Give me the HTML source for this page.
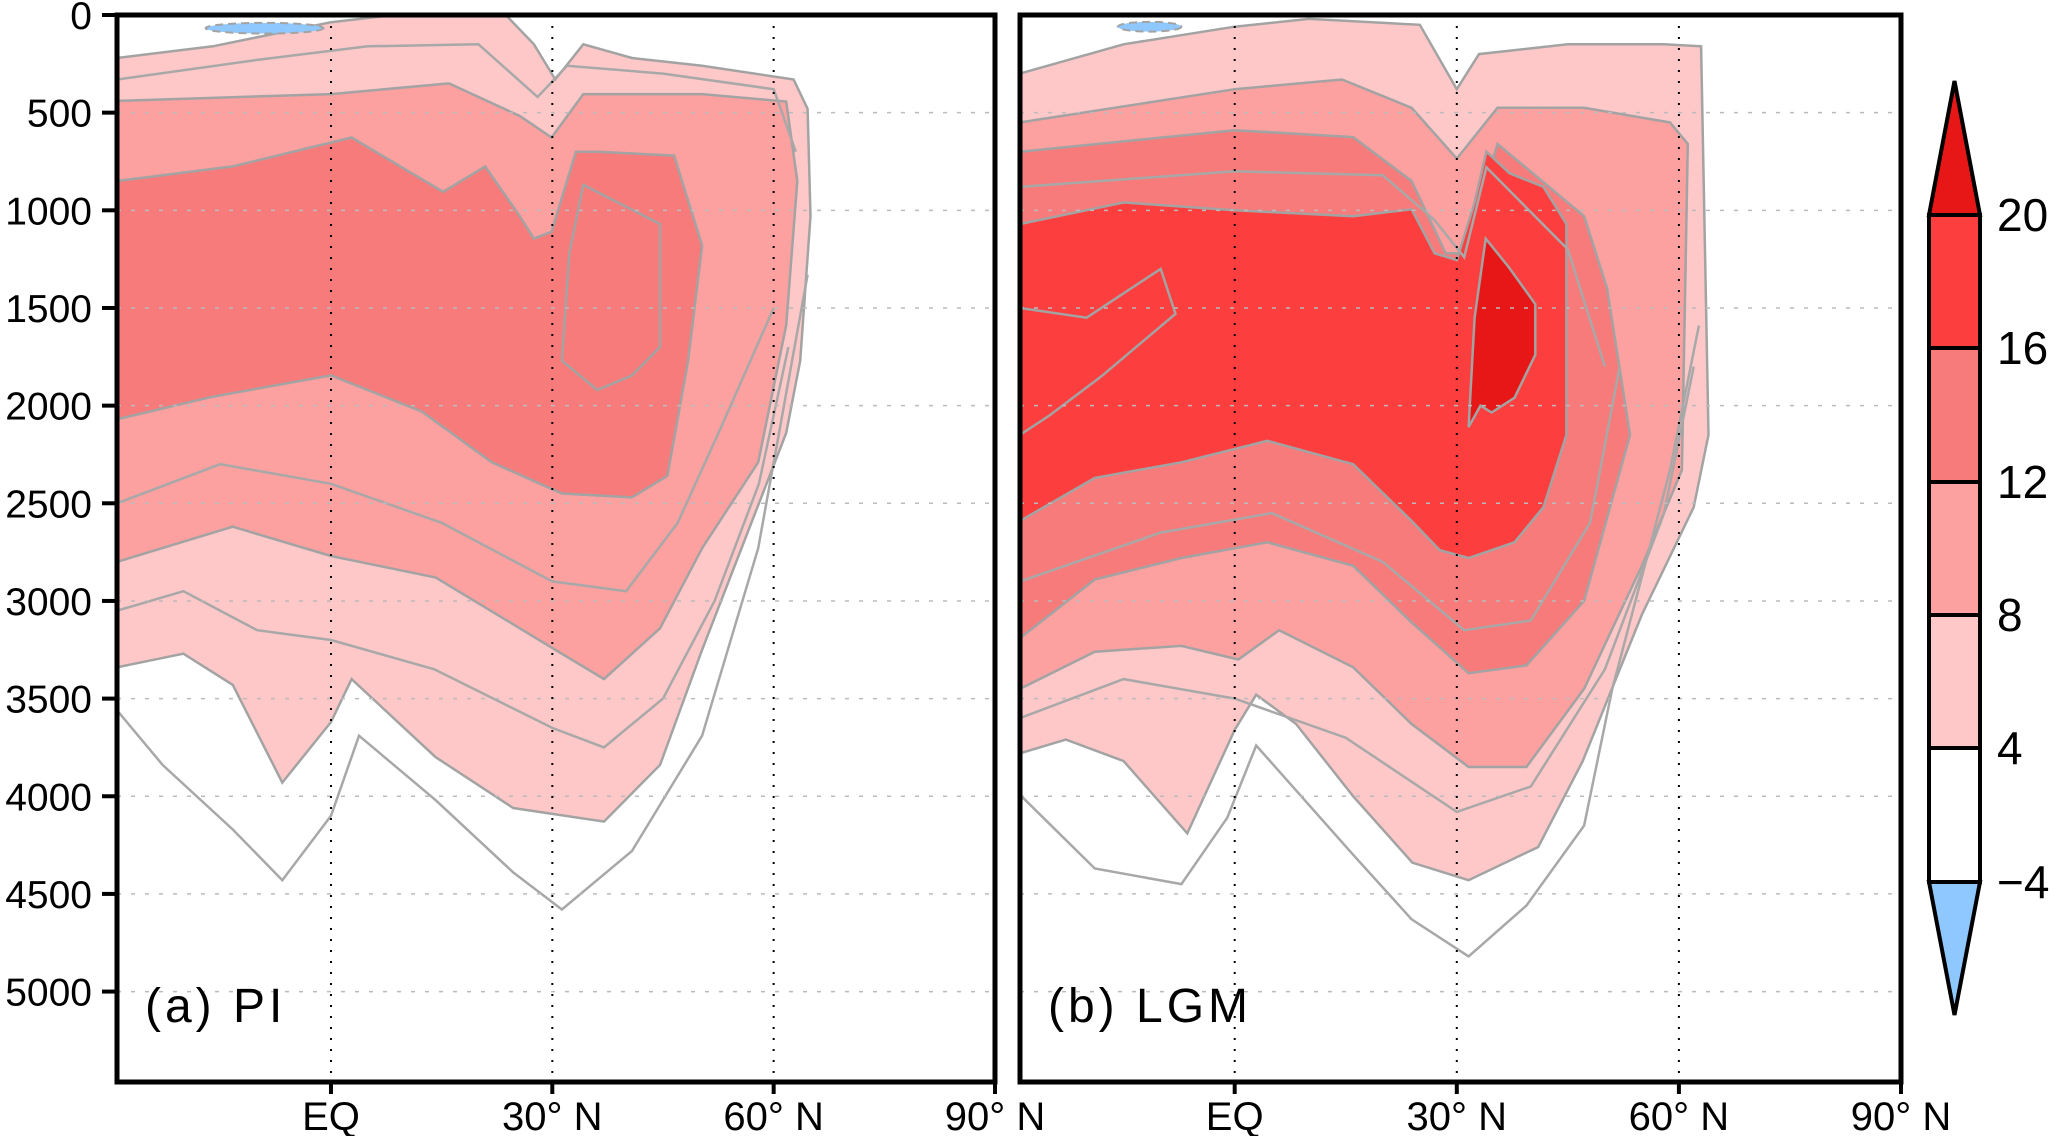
<!DOCTYPE html>
<html><head><meta charset="utf-8"><style>
body{margin:0;background:#fff;}
svg{display:block;font-family:"Liberation Sans",sans-serif;}
</style></head><body>
<svg id="chart" width="2067" height="1136" viewBox="0 0 2067 1136" xmlns="http://www.w3.org/2000/svg">
</svg>
<script>
// ---- data (lat, depth) ----
const levels = [4, 8, 12, 16, 20];
const levelColors = ['#ffc8c8', '#fca0a0', '#f87b7b', '#fd3e3e', '#e81717'];
const depthTicks = [0, 500, 1000, 1500, 2000, 2500, 3000, 3500, 4000, 4500, 5000];
const latTicks = [0, 30, 60, 90];
const latTickLabels = ['EQ', '30° N', '60° N', '90° N'];
const cbarLabels = ['20', '16', '12', '8', '4', '−4'];

const piLat4 = [-29,-16,0,8.5,23.7,27.5,30.4,34.2,40.8,50.3,62.7,64.6,65,63.6,61.7,57.9,50.3,44.6,37,24.7,14.2,2.8,0,-6.6,-13.3,-20,-29];
const piDep4 = [220,160,37,0,0,150,330,150,220,260,330,480,1030,1770,2140,2510,3250,3840,4130,4060,3800,3400,3620,3930,3430,3270,3340];
const piLat8 = [-29,0,16,25.6,29.9,34.2,50.3,61.7,63.2,61.7,57.9,50.3,44.6,37,30.4,14.2,0,-13.3,-29];
const piDep8 = [440,405,350,517,627,405,405,443,850,1590,2290,2730,3140,3400,3250,2880,2770,2620,2800];
const piLat12 = [-29,-13.3,2.8,15.2,20.9,25.6,27.5,29.9,33.2,36.1,46.5,50.3,48.4,45.6,40.8,31.3,21.8,12.3,0,-16.1,-29];
const piDep12 = [850,775,627,905,775,1030,1145,1110,700,700,720,1180,1770,2360,2470,2450,2290,2030,1845,1955,2070];
const piLatIn = [34.2,44.6,44.6,40.8,36.1,31.3,32.3,34.2];
const piDepIn = [870,1070,1700,1845,1920,1770,1220,870];
const piLatL2 = [-29,-22.8,-13.3,-6.6,0,3.8,14.2,24.7,31.3,40.8,50.3,57.9,64.6];
const piDepL2 = [3560,3840,4170,4430,4100,3690,4020,4390,4580,4280,3690,2730,1330];
const piLatL6 = [-29,-20,-10,0,14,30,37,45,52,58,62];
const piDepL6 = [3050,2950,3150,3200,3350,3650,3750,3500,3000,2400,1700];
const piLatL10 = [-29,-15,0,15,30,40,47,53,60];
const piDepL10 = [2500,2300,2400,2600,2900,2950,2600,2100,1500];
const piLatTop6 = [-29,-10,5,20,28,32,45,60,63];
const piDepTop6 = [330,230,160,150,420,260,300,380,700];
const piBlueLat = [-17,-1];
const piBlueDep = [40,95];

const lgLat4 = [-29,-15,0,10,25,30,33,45,58,63,64,62,55,47,41,31.6,24,16,8.3,2.9,0,-6.4,-15,-22.8,-29];
const lgDep4 = [300,150,60,20,50,380,200,150,150,160,2150,2520,3070,3820,4260,4430,4340,4000,3630,3480,3660,4190,3820,3710,3780];
const lgLat8 = [-29,0,14.5,23.9,30,35.5,47.2,58.8,61.2,60.4,55,47.2,39.4,31.6,23.9,16,6,0.5,-7.2,-18.9,-29];
const lgDep8 = [550,380,330,475,735,475,475,550,660,2330,2820,3450,3850,3850,3630,3340,3150,3300,3230,3260,3450];
const lgLat12 = [-29,0,16,23.9,28.5,31.6,34,35.5,47.2,50.3,53.4,47.2,39.4,31.6,23.9,16,4.4,-7.2,-18.9,-29];
const lgDep12 = [700,590,625,850,1220,1220,850,660,1030,1400,2150,3000,3330,3370,3110,2820,2700,2780,2890,3190];
const lgLat16 = [-29,-15,0,16,23.9,27,30,32.4,34,37.1,41.7,44.8,44.8,41.7,37.8,31.6,27.7,23.9,16,4.4,-7.2,-18.9,-29];
const lgDep16 = [1070,960,1000,1030,995,1220,1255,960,700,810,880,1070,2150,2520,2700,2780,2740,2590,2300,2180,2290,2370,2590];
const lgLat20 = [33.9,37,40.6,40.6,37.8,34.7,33.2,31.6,32.4];
const lgDep20 = [1145,1290,1480,1740,1960,2035,2000,2110,1550];
const lgLatIn = [-29,-20,-10,-8,-18,-25,-29];
const lgDepIn = [1500,1550,1300,1530,1850,2050,2150];
const lgLatL2 = [-28.8,-18.9,-7.2,-1,2.9,16,23.9,31.6,39.4,47.2,51,58.8,62.7];
const lgDepL2 = [4000,4370,4450,4110,3740,4300,4630,4820,4560,4150,3450,2330,1590];
const lgLatL6 = [-29,-15,0,15,30,40,50,58,62];
const lgDepL6 = [3600,3400,3500,3700,4080,3950,3350,2550,1800];
const lgLatL14 = [-29,-10,5,20,31,40,48,52];
const lgDepL14 = [2900,2650,2550,2800,3150,3100,2600,1800];
const lgLatTop14 = [-29,0,20,27,31,34,45,50];
const lgDepTop14 = [880,800,820,1050,1240,780,1200,1800];
const lgBlueLat = [-15.8,-7.2];
const lgBlueDep = [35,85];

// ---- layout ----
const NS = 'http://www.w3.org/2000/svg';
const svg = document.getElementById('chart');
const LAT0 = -29, LAT1 = 90, DMAX = 5463, TOP = 15, BOT = 1082;
const panels = [{x0:117, x1:995, id:'pi', label:'(a)  PI'}, {x0:1020, x1:1901, id:'lgm', label:'(b)  LGM'}];
function mk(tag, attrs, parent){const e=document.createElementNS(NS,tag);for(const k in attrs)e.setAttribute(k,attrs[k]);(parent||svg).appendChild(e);return e;}
function xs(p, lat){return p.x0 + (lat - LAT0) / (LAT1 - LAT0) * (p.x1 - p.x0);}
function ys(d){return TOP + d / DMAX * (BOT - TOP);}
function pts(p, la, de){return la.map((l,i)=>xs(p,l).toFixed(1)+','+ys(de[i]).toFixed(1)).join(' ');}

const defs = mk('defs', {});
panels.forEach(p=>{
  const cp = mk('clipPath', {id:'clip-'+p.id}, defs);
  mk('rect', {x:p.x0, y:TOP, width:p.x1-p.x0, height:BOT-TOP}, cp);
});

function drawPanel(p, fills, inner, lines, blue){
  const g = mk('g', {'clip-path':'url(#clip-'+p.id+')'});
  
  
  fills.forEach((f,i)=>{
    const e = mk('polygon', {points:pts(p,f[0],f[1]), fill:levelColors[f[2]], stroke:'#a3a3a3', 'stroke-width':2.5}, g);
    
    
  });
  inner.forEach(f=>{
    const e = mk('polygon', {points:pts(p,f[0],f[1]), fill:'none', stroke:'#a3a3a3', 'stroke-width':2.5}, g);
    
    
  });
  lines.forEach(f=>{
    const e = mk('polyline', {points:pts(p,f[0],f[1]), fill:'none', stroke:'#a8a8a8', 'stroke-width':2.5}, g);
    
    
  });
  const cx = (xs(p,blue[0][0])+xs(p,blue[0][1]))/2, cy=(ys(blue[1][0])+ys(blue[1][1]))/2;
  const b = mk('ellipse', {cx:cx, cy:cy, rx:(xs(p,blue[0][1])-xs(p,blue[0][0]))/2, ry:(ys(blue[1][1])-ys(blue[1][0]))/2, fill:'#8fc8ff', stroke:'#a3a3a3','stroke-dasharray':'8 5','stroke-width':2}, g);
  
  
  depthTicks.forEach(d=>{
    if(d===0) return;
    const e = mk('line', {x1:p.x0, x2:p.x1, y1:ys(d), y2:ys(d), stroke:'#bbbbbb', 'stroke-width':1.5, 'stroke-dasharray':'4 10'}, g);
    
    
  });
  latTicks.forEach(l=>{
    if(l===90) return;
    const e = mk('line', {x1:xs(p,l), x2:xs(p,l), y1:TOP, y2:BOT, stroke:'#000', 'stroke-width':2, 'stroke-dasharray':'2 9'}, g);
    
    
  });
  const fr = mk('rect', {x:p.x0, y:TOP, width:p.x1-p.x0, height:BOT-TOP, fill:'none', stroke:'#000', 'stroke-width':5});
  
  
  latTicks.forEach((l,i)=>{
    const x = xs(p,l);
    mk('line', {x1:x, x2:x, y1:BOT, y2:BOT+12, stroke:'#000', 'stroke-width':4});
    const t = mk('text', {x:x, y:1130, 'text-anchor':'middle', 'font-size':40});
    t.textContent = latTickLabels[i];
    
    
  });
  const lab = mk('text', {x:p.x0+28, y:1022, 'font-size':48, 'letter-spacing':4});
  lab.textContent = p.label;
  
  
}

drawPanel(panels[0],
  [[piLat4,piDep4,0],[piLat8,piDep8,1],[piLat12,piDep12,2]],
  [[piLatIn,piDepIn]],
  [[piLatL2,piDepL2],[piLatL6,piDepL6],[piLatL10,piDepL10],[piLatTop6,piDepTop6]],
  [piBlueLat,piBlueDep]);
drawPanel(panels[1],
  [[lgLat4,lgDep4,0],[lgLat8,lgDep8,1],[lgLat12,lgDep12,2],[lgLat16,lgDep16,3],[lgLat20,lgDep20,4]],
  [[lgLatIn,lgDepIn]],
  [[lgLatL2,lgDepL2],[lgLatL6,lgDepL6],[lgLatL14,lgDepL14],[lgLatTop14,lgDepTop14]],
  [lgBlueLat,lgBlueDep]);

depthTicks.forEach(d=>{
  mk('line', {x1:102, x2:117, y1:ys(d), y2:ys(d), stroke:'#000', 'stroke-width':4});
  const t = mk('text', {x:92, y:ys(d)+14, 'text-anchor':'end', 'font-size':39});
  t.textContent = d;
  
  
});

const cb = mk('g', {});


const CX0 = 1929, CX1 = 1980, cbY = [215, 348, 482, 615, 748, 882];
const cbCols = ['#fd3e3e', '#f87b7b', '#fca0a0', '#ffc8c8', '#ffffff'];
mk('polygon', {points:`${CX0},${cbY[0]} ${(CX0+CX1)/2},81 ${CX1},${cbY[0]}`, fill:'#e81717', stroke:'#000','stroke-width':4}, cb);
for(let i=0;i<5;i++){
  mk('rect', {x:CX0, y:cbY[i], width:CX1-CX0, height:cbY[i+1]-cbY[i], fill:cbCols[i], stroke:'#000','stroke-width':4}, cb);
}
mk('polygon', {points:`${CX0},${cbY[5]} ${(CX0+CX1)/2},1015 ${CX1},${cbY[5]}`, fill:'#8fc8ff', stroke:'#000','stroke-width':4}, cb);
cbarLabels.forEach((s,i)=>{
  const t = mk('text', {x:1997, y:cbY[i]+16, 'font-size':46}, cb);
  t.textContent = s;
  
  
});
</script>
</body></html>
